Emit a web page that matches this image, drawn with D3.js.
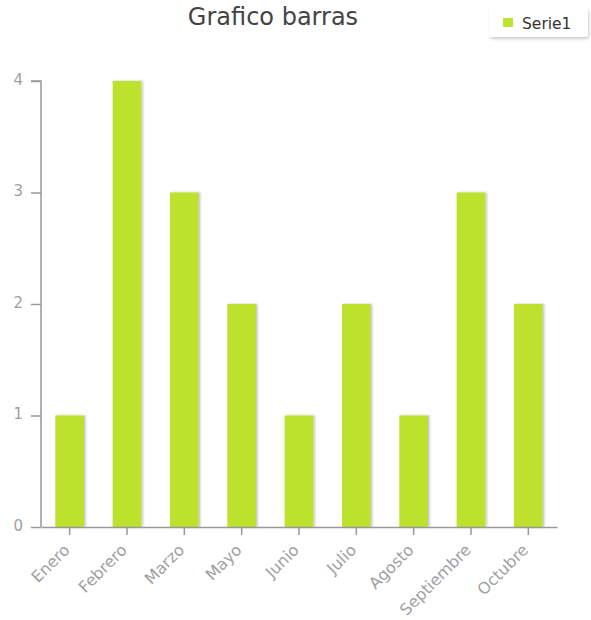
<!DOCTYPE html>
<html><head><meta charset="utf-8">
<script src="https://cdn.jsdelivr.net/npm/d3@7"></script>
<style>body{margin:0;background:#fff;} text{font-family:"DejaVu Sans",Verdana,sans-serif;}</style>
</head><body>
<svg id="c" width="591" height="620"></svg>
<script>
const categories = ["Enero","Febrero","Marzo","Mayo","Junio","Julio","Agosto","Septiembre","Octubre"];
const values = [1,4,3,2,1,2,1,3,2];
const yTicks = [0,1,2,3,4];
const seriesName = "Serie1";
const title = "Grafico barras";

const svg = d3.select("#c");
const m = {l:41, r:34, t:81, b:93};
const W = 591, H = 620;
const x = d3.scaleBand().domain(categories).range([m.l, W - m.r]).paddingInner(0.5).paddingOuter(0.25);
const y = d3.scaleLinear().domain([0,4]).range([H - m.b, m.t]);

const defs = svg.append("defs");
const f = defs.append("filter").attr("id","sh").attr("x","-20%").attr("y","-20%").attr("width","150%").attr("height","150%");
f.append("feDropShadow").attr("dx",1.5).attr("dy",0).attr("stdDeviation",0.8).attr("flood-color","#000").attr("flood-opacity",0.25);
const f2 = defs.append("filter").attr("id","lsh").attr("x","-20%").attr("y","-30%").attr("width","140%").attr("height","180%");
f2.append("feDropShadow").attr("dx",1).attr("dy",2).attr("stdDeviation",1.5).attr("flood-color","#000").attr("flood-opacity",0.2);

svg.append("text").attr("x",273).attr("y",25).attr("text-anchor","middle")
  .attr("font-size",24).attr("fill","#444").text(title);

// bars
svg.append("g").selectAll("rect").data(values).join("rect")
  .attr("x",(d,i)=>x(categories[i])).attr("width",x.bandwidth())
  .attr("y",d=>y(d)).attr("height",d=>y(0)-y(d))
  .attr("fill","#bde22f").attr("filter","url(#sh)");

// y axis
const ya = svg.append("g").attr("transform",`translate(${m.l},0)`)
  .call(d3.axisLeft(y).tickValues(yTicks).tickFormat(d3.format("d")).tickSize(10).tickPadding(8));
ya.select(".domain").attr("stroke","#999").attr("stroke-width",1.5).attr("d",`M-10,${y(4)}H0V${y(0)}`);
ya.selectAll(".tick line").attr("stroke","#999").attr("stroke-width",1.5);
ya.selectAll("text").attr("fill","#a0a0a0").attr("font-size",15).attr("font-family","DejaVu Sans, sans-serif")
  .attr("dy","0.2em");

// x axis
const xa = svg.append("g").attr("transform",`translate(0,${y(0)})`)
  .call(d3.axisBottom(x).tickSize(8).tickSizeOuter(0));
xa.select(".domain").attr("stroke","#999").attr("stroke-width",1.5);
xa.selectAll(".tick line").attr("stroke","#999").attr("stroke-width",1.5);
xa.selectAll("text").attr("fill","#a0a0a0").attr("font-size",16).attr("font-family","DejaVu Sans, sans-serif")
  .attr("text-anchor","end").attr("dy",null).attr("y",0)
  .attr("transform","translate(1,24) rotate(-45)");

// legend
const lg = svg.append("g");
lg.append("rect").attr("x",489).attr("y",8).attr("width",99).attr("height",29).attr("rx",3)
  .attr("fill","#fff").attr("filter","url(#lsh)");
lg.append("rect").attr("x",503).attr("y",18).attr("width",10).attr("height",9).attr("fill","#bde22f");
lg.append("text").attr("x",522).attr("y",29).attr("font-size",15.5).attr("fill","#333").text(seriesName);
</script>
</body></html>
